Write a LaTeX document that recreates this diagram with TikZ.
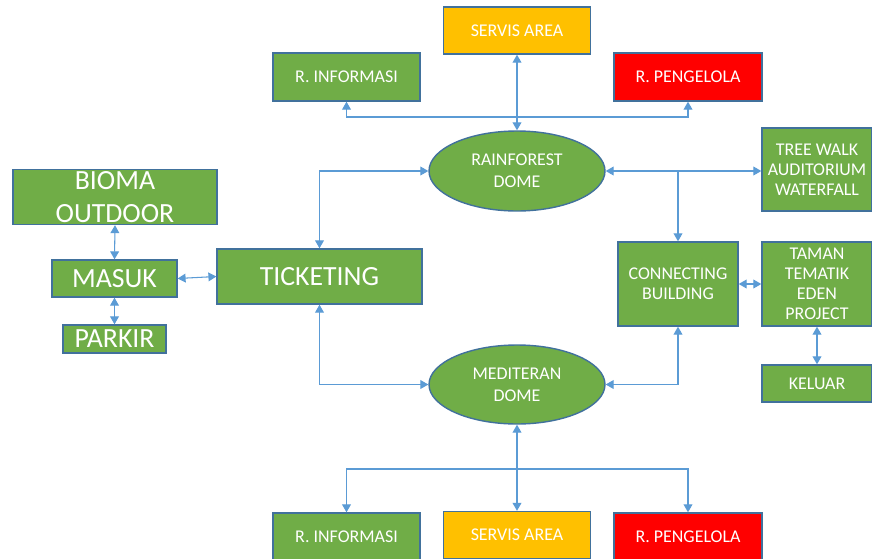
\documentclass[tikz,border=0pt]{standalone}
\usepackage{fontspec}
\setmainfont{Carlito}
\usepackage{tikz}
\usetikzlibrary{arrows.meta, positioning, shapes.geometric}

\definecolor{boxgreen}{HTML}{70AD47}
\definecolor{boxyellow}{HTML}{FFC000}
\definecolor{boxred}{HTML}{FF0000}
\definecolor{edgeblue}{HTML}{41719C}
\definecolor{linkblue}{HTML}{5B9BD5}

\begin{document}
\begin{tikzpicture}[
    x=0.02cm, y=-0.02cm,
    room/.style={draw=edgeblue, line width=0.8pt, fill=boxgreen, text=white, inner sep=0pt,
        align=center, font=\fontsize{10.2}{11.4}\selectfont},
    bigroom/.style={room, font=\fontsize{15.8}{19}\selectfont},
    dome/.style={room, ellipse, minimum width=3.52cm, minimum height=1.6cm, font=\fontsize{10.2}{12.4}\selectfont},
    service/.style={room, fill=boxyellow},
    office/.style={room, fill=boxred},
    link/.style={{Triangle[width=5pt,length=4.5pt]}-{Triangle[width=5pt,length=4.5pt]}, draw=linkblue, line width=0.6pt},
    onelink/.style={-{Triangle[width=5pt,length=4.5pt]}, draw=linkblue, line width=0.6pt}
]
    \useasboundingbox (0,0) rectangle (872,558);

    % upper dome
    \node[service, minimum width=2.94cm, minimum height=0.94cm] (sa_top) at (517,30.5) {SERVIS AREA};
    \node[room, minimum width=2.94cm, minimum height=0.96cm] (ri_top) at (346.5,77) {R. INFORMASI};
    \node[office, minimum width=2.96cm, minimum height=0.96cm] (rp_top) at (688,77) {R. PENGELOLA};
    \node[dome] (rainforest) at (517,171) {RAINFOREST\\DOME};

    % entrance
    \node[bigroom, minimum width=4.1cm, minimum height=1.1cm] (ticket) at (319.5,276.5) {TICKETING};
    \node[bigroom, minimum width=2.5cm, minimum height=0.74cm] (masuk) at (114.5,278.5) {MASUK};
    \node[bigroom, minimum width=4.08cm, minimum height=1.1cm] (bioma) at (115,197) {BIOMA\\OUTDOOR};
    \node[bigroom, minimum width=2.06cm, minimum height=0.56cm] (parkir) at (114.5,339) {PARKIR};

    % right side
    \node[room, minimum width=2.2cm, minimum height=1.66cm] (treewalk) at (817,169.5) {TREE WALK\\AUDITORIUM\\WATERFALL};
    \node[room, minimum width=2.4cm, minimum height=1.68cm] (connect) at (678,284) {CONNECTING\\BUILDING};
    \node[room, minimum width=2.2cm, minimum height=1.68cm] (taman) at (817,284) {TAMAN\\TEMATIK\\EDEN\\PROJECT};
    \node[room, minimum width=2.2cm, minimum height=0.74cm] (keluar) at (817,383.5) {KELUAR};

    % lower dome
    \node[dome, minimum height=1.58cm] (mediteran) at (517,384.5) {MEDITERAN\\DOME};
    \node[room, minimum width=2.94cm, minimum height=0.94cm] (ri_bot) at (346.5,536.5) {R. INFORMASI};
    \node[service, minimum width=2.94cm, minimum height=0.94cm] (sa_bot) at (517,535) {SERVIS AREA};
    \node[office, minimum width=2.96cm, minimum height=0.94cm] (rp_bot) at (688,536.5) {R. PENGELOLA};

    \coordinate (topjoin) at (517,117);
    \coordinate (botjoin) at (517,469);

    \draw[link] (rainforest.north) -- (sa_top.south);
    \draw[link] (ri_top.south) |- (topjoin) -| (rp_top.south);
    \draw[link] (ticket.north) |- (rainforest.west);
    \draw[link] (ticket.south) |- (mediteran.west);
    \draw[link] (rainforest.east) -- (rainforest.east -| treewalk.west);
    \draw[onelink] (rainforest.east -| connect.north) -- (connect.north);
    \draw[link] (connect.south) |- (mediteran.east);
    \draw[link] (connect.east) -- (taman.west);
    \draw[link] (taman.south) -- (keluar.north);
    \draw[link] (mediteran.south) -- (sa_bot.north);
    \draw[link] (ri_bot.north) |- (botjoin) -| (rp_bot.north);
    \draw[link] (bioma.south) -- (masuk.north);
    \draw[link] (masuk.south) -- (parkir.north);
    \draw[link] (masuk.east) -- (ticket.west);
\end{tikzpicture}
\end{document}
